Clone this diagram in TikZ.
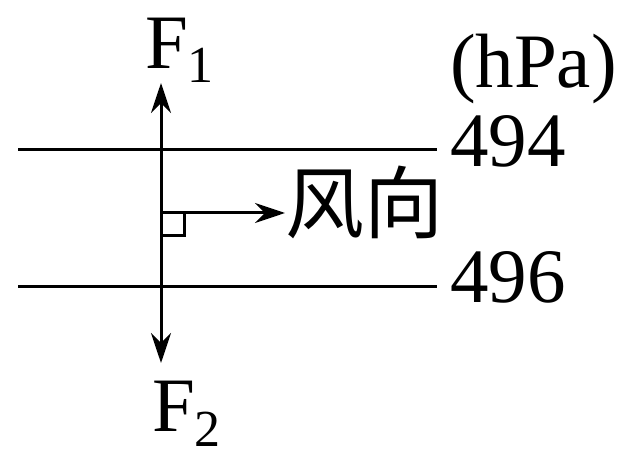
\documentclass[tikz,border=0pt]{standalone}
\usepackage{fontspec}
\setmainfont{Liberation Serif}
\newfontfamily\cjk{Noto Sans CJK SC}
\usetikzlibrary{arrows.meta,calc}
\newcommand{\lowsub}[2]{\raisebox{-#1}[0pt][0pt]{\fontsize{52}{52}\selectfont #2}}
\begin{document}
\begin{tikzpicture}[x=1pt,y=1pt,
  lbl/.style={inner sep=0pt,outer sep=0pt,font=\fontsize{77}{80}\selectfont},
  thin line/.style={line width=3pt},
  arr/.style={line width=3pt,-{Stealth[length=30pt,width=20pt]}},
  darr/.style={line width=3pt,{Stealth[length=30pt,width=20pt]}-{Stealth[length=30pt,width=20pt]}}]
\useasboundingbox (0,0) rectangle (639,452);
% labels
\node[lbl,anchor=base west] (F1) at (145,383) {F\lowsub{14pt}{1}};
\node[lbl,anchor=base west] (F2) at (152,20) {F\lowsub{15pt}{2}};
\node[lbl,anchor=base west] (unit) at (450,364) {(hPa)};
\node[lbl,anchor=base west] (p494) at (450,285) {494};
\node[lbl,anchor=base west] (p496) at (450,149) {496};
\node[lbl,anchor=west,font=\fontsize{79}{82}\selectfont\cjk] (wind) at (285,250) {风向};
% coordinates
\coordinate (top) at (161,369);
\coordinate (bot) at (161,89);
\coordinate (o) at (161,239);
\coordinate (l1) at (18,302);
\coordinate (r1) at (437,302);
\coordinate (l2) at (18,165);
\coordinate (r2) at (437,165);
\coordinate (wtip) at (285,239);
% isobars
\draw[thin line] (l1) -- (r1);
\draw[thin line] (l2) -- (r2);
% forces
\draw[darr] (bot) -- (top);
% wind direction
\draw[arr] (o) -- (wtip);
\draw[thin line] ($(o)+(0,-23)$) -- ++(23,0) -- ++(0,23);
\end{tikzpicture}
\end{document}
